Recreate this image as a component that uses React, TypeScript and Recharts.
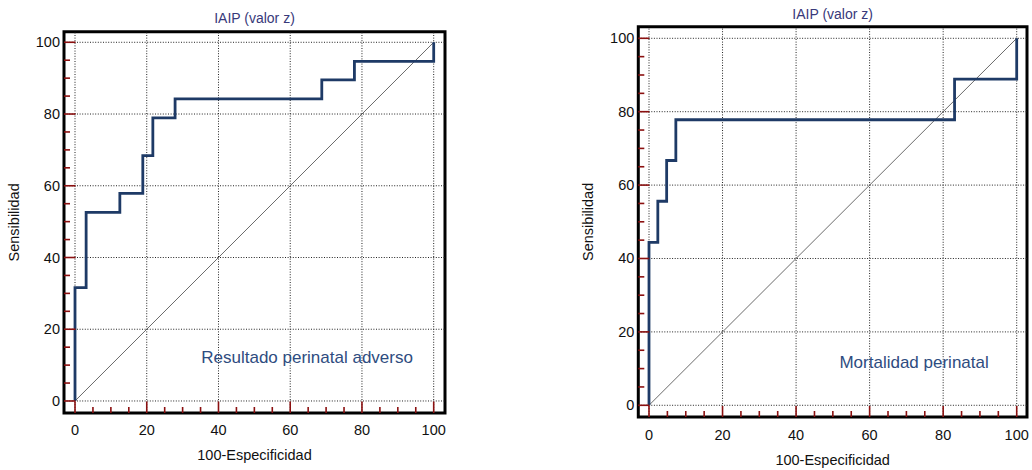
import React from "react";
import {
  LineChart,
  Line,
  XAxis,
  YAxis,
  ReferenceLine,
  ReferenceArea,
  ReferenceDot,
} from "recharts";

/* ─── Data ──────────────────────────────────────────────────── */

// ROC operating points, left panel (Resultado perinatal adverso)
const fprAdverso = [0, 0, 3.1, 12.5, 18.9, 21.7, 27.9, 68.8, 77.9, 100];
const tprAdverso = [0, 31.6, 52.6, 57.9, 68.4, 78.9, 84.2, 89.5, 94.7, 100];

// ROC operating points, right panel (Mortalidad perinatal)
const fprMortalidad = [0, 0, 2.4, 4.8, 7.3, 83.1, 100];
const tprMortalidad = [0, 44.4, 55.6, 66.7, 77.8, 88.9, 100];

const diagX = [0, 100];
const diagY = [0, 100];

const allTicks = [0, 5, 10, 15, 20, 25, 30, 35, 40, 45, 50, 55, 60, 65, 70, 75, 80, 85, 90, 95, 100];
const majorTicks = [0, 20, 40, 60, 80, 100];

/* ─── Styles ────────────────────────────────────────────────── */

const FONT = '"Liberation Sans", Arial, Helvetica, sans-serif';
const TICK_RED = "#8b1010";
const CURVE = "#1e3a66";
const TITLE_COLOR = "#38397a";
const NOTE_COLOR = "#2e4c80";

const zip = (xs: number[], ys: number[]) => xs.map((x, i) => ({ x, y: ys[i] }));

/* ─── Panel ─────────────────────────────────────────────────── */

interface PanelProps {
  left: number;
  width: number;
  plot: { left: number; right: number; top: number; bottom: number };
  xDomain: [number, number];
  yDomain: [number, number];
  fpr: number[];
  tpr: number[];
  note: string;
  notePos: { x: number; y: number };
  titleY: number;
  yLabelX: number;
  xLabelDy: number;
  tickDy: number;
  majorLen: number;
}

function RocPanel(p: PanelProps) {
  const height = 470;
  const curve = zip(p.fpr, p.tpr);
  const diag = zip(diagX, diagY);
  const plotW = p.plot.right - p.plot.left;

  const XTick = (props: any) => {
    const { x, y, payload } = props;
    const major = payload.value % 20 === 0;
    return (
      <g>
        <line x1={x} x2={x} y1={y} y2={y - (major ? p.majorLen : 6)} stroke={TICK_RED} strokeWidth={1.6} />
        {major && (
          <text x={x} y={y + p.tickDy} textAnchor="middle" fontSize={14.5} fontFamily={FONT} fill="#111">
            {payload.value}
          </text>
        )}
      </g>
    );
  };

  const YTick = (props: any) => {
    const { x, y, payload } = props;
    const major = payload.value % 20 === 0;
    return (
      <g>
        <line x1={x} x2={x + (major ? p.majorLen : 6)} y1={y} y2={y} stroke={TICK_RED} strokeWidth={1.6} />
        {major && (
          <text x={x - 4} y={y + 5} textAnchor="end" fontSize={14.5} fontFamily={FONT} fill="#111">
            {payload.value}
          </text>
        )}
      </g>
    );
  };

  return (
    <div style={{ position: "absolute", left: p.left, top: 0, width: p.width, height }}>
      <div
        style={{
          position: "absolute",
          left: p.plot.left,
          width: plotW,
          top: p.titleY - 8,
          lineHeight: "16px",
          fontSize: 14,
          fontFamily: FONT,
          color: TITLE_COLOR,
          textAlign: "center",
        }}
      >
        IAIP (valor z)
      </div>
      <LineChart
        width={p.width}
        height={height}
        margin={{ top: p.plot.top, right: p.width - p.plot.right, bottom: 0, left: 0 }}
      >
        <XAxis
          type="number"
          dataKey="x"
          domain={p.xDomain}
          ticks={allTicks}
          interval={0}
          allowDataOverflow
          height={height - p.plot.bottom}
          tickSize={0}
          tickMargin={0}
          axisLine={false}
          tickLine={false}
          tick={XTick}
          label={{
            content: ({ viewBox }: any) => (
              <text
                x={viewBox.x + viewBox.width / 2}
                y={viewBox.y + p.xLabelDy}
                textAnchor="middle"
                dominantBaseline="central"
                fontSize={14.5}
                fontFamily={FONT}
                fill="#111"
              >
                100-Especificidad
              </text>
            ),
          }}
        />
        <YAxis
          type="number"
          dataKey="y"
          domain={p.yDomain}
          ticks={allTicks}
          interval={0}
          allowDataOverflow
          width={p.plot.left}
          tickSize={0}
          tickMargin={0}
          axisLine={false}
          tickLine={false}
          tick={YTick}
          label={{
            content: ({ viewBox }: any) => {
              const cx = viewBox.x + p.yLabelX;
              const cy = viewBox.y + viewBox.height / 2;
              return (
                <text
                  x={cx}
                  y={cy}
                  transform={`rotate(-90, ${cx}, ${cy})`}
                  textAnchor="middle"
                  dominantBaseline="central"
                  fontSize={14.5}
                  fontFamily={FONT}
                  fill="#111"
                >
                  Sensibilidad
                </text>
              );
            },
          }}
        />

        {majorTicks.map((v) => (
          <ReferenceLine key={`gx${v}`} x={v} stroke="#222" strokeWidth={1} strokeDasharray="1 1.6" />
        ))}
        {majorTicks.map((v) => (
          <ReferenceLine key={`gy${v}`} y={v} stroke="#222" strokeWidth={1} strokeDasharray="1 1.6" />
        ))}

        <Line
          data={diag}
          dataKey="y"
          type="linear"
          stroke="#444"
          strokeWidth={0.8}
          dot={false}
          activeDot={false}
          isAnimationActive={false}
        />
        <Line
          data={curve}
          dataKey="y"
          type="stepAfter"
          stroke={CURVE}
          strokeWidth={2.8}
          dot={false}
          activeDot={false}
          isAnimationActive={false}
        />

        <ReferenceDot
          x={p.notePos.x}
          y={p.notePos.y}
          r={0}
          fill="none"
          stroke="none"
          label={{ value: p.note, position: "center", fill: NOTE_COLOR, fontSize: 17, fontFamily: FONT }}
        />

        <ReferenceArea
          x1={p.xDomain[0]}
          x2={p.xDomain[1]}
          y1={p.yDomain[0]}
          y2={p.yDomain[1]}
          fill="none"
          fillOpacity={0}
          stroke="#000"
          strokeWidth={3}
        />
      </LineChart>
    </div>
  );
}

/* ─── App ───────────────────────────────────────────────────── */

export default function App() {
  return (
    <div style={{ position: "absolute", left: 0, top: 0, width: 1032, height: 470, background: "#fff" }}>
      <RocPanel
        left={0}
        width={460}
        plot={{ left: 64, right: 445, top: 31.7, bottom: 413 }}
        xDomain={[-3.07, 103.15]}
        yDomain={[-3.35, 102.95]}
        fpr={fprAdverso}
        tpr={tprAdverso}
        note="Resultado perinatal adverso"
        notePos={{ x: 64.7, y: 12.3 }}
        titleY={18}
        yLabelX={14}
        xLabelDy={42}
        tickDy={22}
        majorLen={11.5}
      />
      <RocPanel
        left={570}
        width={462}
        plot={{ left: 68.3, right: 457, top: 26.7, bottom: 417 }}
        xDomain={[-2.91, 102.8]}
        yDomain={[-3.19, 103.16]}
        fpr={fprMortalidad}
        tpr={tprMortalidad}
        note="Mortalidad perinatal"
        notePos={{ x: 72.1, y: 11.8 }}
        titleY={14}
        yLabelX={18.3}
        xLabelDy={43}
        tickDy={23}
        majorLen={11}
      />
    </div>
  );
}
